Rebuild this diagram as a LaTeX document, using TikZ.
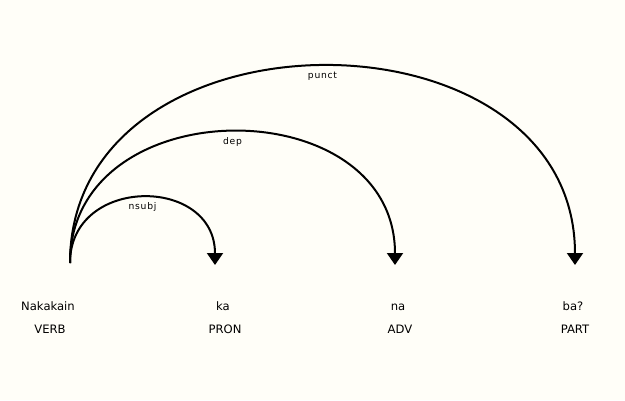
\documentclass[tikz,border=0pt]{standalone}
\usepackage{fontspec}
\setmainfont{DejaVu Sans}
\newfontfamily\lblfont[LetterSpace=8]{DejaVu Sans}
\usetikzlibrary{arrows.meta,calc}
\definecolor{bgcol}{RGB}{255,254,248}
\tikzset{
  word/.style={anchor=base,inner sep=0pt,font=\fontsize{11.6}{13}\selectfont},
  deplabel/.style={anchor=base,inner sep=0pt,font=\lblfont\fontsize{9.2}{10}\selectfont},
  arc/.style={line width=2pt,-{Triangle[length=12pt,width=16pt]}},
}
\begin{document}
\begin{tikzpicture}[x=1pt,y=1pt]
\fill[bgcol] (0,0) rectangle (625,-400);
\useasboundingbox (0,0) rectangle (625,-400);
% words
\node[word] (w1) at (48,-310) {Nakakain};
\node[word] (w2) at (223,-310) {ka};
\node[word] (w3) at (398,-310) {na};
\node[word] (w4) at (573,-310) {ba?};
% tags
\node[word] (t1) at (50,-333.3) {VERB};
\node[word] (t2) at (225,-333.3) {PRON};
\node[word] (t3) at (400,-333.3) {ADV};
\node[word] (t4) at (575,-333.3) {PART};
% arc end points
\coordinate (s) at (70,-263);
\coordinate (e1) at (215,-265);
\coordinate (e2) at (395,-265);
\coordinate (e3) at (575,-265);
% arcs
\draw[arc] (s) .. controls ($(s)+(0,87.5)$) and ($(e1)+(0,89.5)$) .. (e1)
  node[deplabel,pos=0.5,yshift=-12pt] (l1) {nsubj};
\draw[arc] (s) .. controls ($(s)+(0,175)$) and ($(e2)+(0,177)$) .. (e2)
  node[deplabel,pos=0.5,yshift=-12pt] (l2) {dep};
\draw[arc] (s) .. controls ($(s)+(0,262.5)$) and ($(e3)+(0,264.5)$) .. (e3)
  node[deplabel,pos=0.5,yshift=-12pt] (l3) {punct};
\end{tikzpicture}
\end{document}
